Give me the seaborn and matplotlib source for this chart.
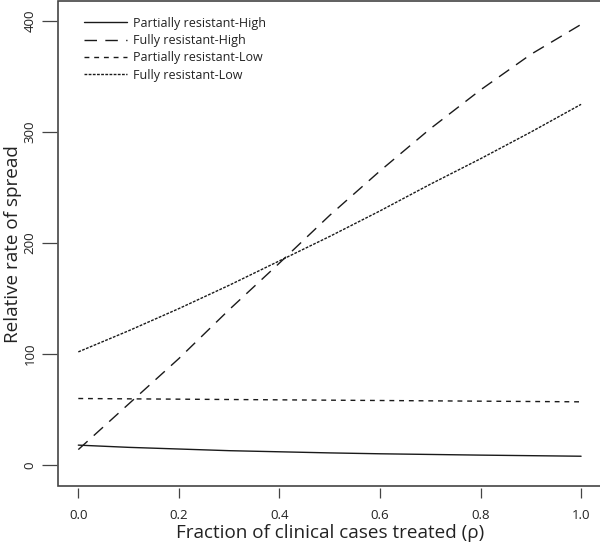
"""Relative rate of spread vs fraction of clinical cases treated."""

import matplotlib
matplotlib.use("Agg")
import matplotlib.pyplot as plt
import pandas as pd
import seaborn as sns

RHO = [0.0, 0.1, 0.2, 0.3, 0.4, 0.5, 0.6, 0.7, 0.8, 0.9, 1.0]
PARTIAL_HIGH = [18, 16, 14.5, 13, 12, 11, 10.2, 9.6, 9, 8.5, 8]
FULLY_HIGH = [14, 55, 96, 140, 182, 225, 265, 303, 338, 370, 397]
PARTIAL_LOW = [60, 59.7, 59.4, 59.1, 58.8, 58.5, 58.2, 57.9, 57.6, 57.3, 57]
FULLY_LOW = [102, 121, 141, 162, 184, 206, 229, 253, 276, 300, 325]

SERIES = ["Partially resistant-High", "Fully resistant-High",
          "Partially resistant-Low", "Fully resistant-Low"]
DASHES = {
    "Partially resistant-High": "",
    "Fully resistant-High": (9, 6),
    "Partially resistant-Low": (3.5, 3.5),
    "Fully resistant-Low": (2, 1),
}

df = pd.concat(
    [
        pd.DataFrame({"rho": RHO, "rate": vals, "series": name})
        for name, vals in zip(SERIES, [PARTIAL_HIGH, FULLY_HIGH, PARTIAL_LOW, FULLY_LOW])
    ],
    ignore_index=True,
)

sns.set_style("ticks")
plt.rcParams["font.family"] = ["Open Sans", "DejaVu Sans"]

fig = plt.figure(figsize=(6, 5.5), dpi=100)
ax = fig.add_axes([0.097, 0.116, 0.905, 0.882])

sns.lineplot(
    data=df, x="rho", y="rate", hue="series", style="series",
    hue_order=SERIES, style_order=SERIES,
    palette=["#1a1a1a"] * 4, dashes=DASHES, linewidth=1.0, ax=ax,
)

ax.set_xlim(-0.04, 1.04)
ax.set_ylim(-19, 418)
ax.set_xticks([0.0, 0.2, 0.4, 0.6, 0.8, 1.0])
ax.set_xticklabels(["0.0", "0.2", "0.4", "0.6", "0.8", "1.0"])
ax.set_yticks([0, 100, 200, 300, 400])
ax.set_yticklabels(["0", "100", "200", "300", "400"])

# R-style box drawn by the axes patch, ticks hanging outside it
for side in ["left", "bottom"]:
    ax.spines[side].set_position(("outward", 1))
for side in ax.spines:
    ax.spines[side].set_visible(False)
ax.patch.set_edgecolor("#444444")
ax.patch.set_linewidth(1.2)
ax.tick_params(axis="both", direction="out", width=0.9, color="#444444",
               labelsize=9.5, labelcolor="#222222")
ax.tick_params(axis="x", length=7.5, pad=8)
ax.tick_params(axis="y", length=11, pad=3.5, labelrotation=90)
for label in ax.get_yticklabels():
    label.set_verticalalignment("center")

ax.set_xlabel("Fraction of clinical cases treated (ρ)", fontsize=13.6,
              color="#222222", labelpad=1)
ax.set_ylabel("Relative rate of spread", fontsize=13.6, color="#222222", labelpad=1)

leg = ax.legend(loc="upper left", bbox_to_anchor=(0.027, 0.991), frameon=False,
                fontsize=9, handlelength=3.4, handletextpad=0.55, labelspacing=0.35)
for text in leg.get_texts():
    text.set_color("#222222")

fig.savefig("out.png", dpi=100)
